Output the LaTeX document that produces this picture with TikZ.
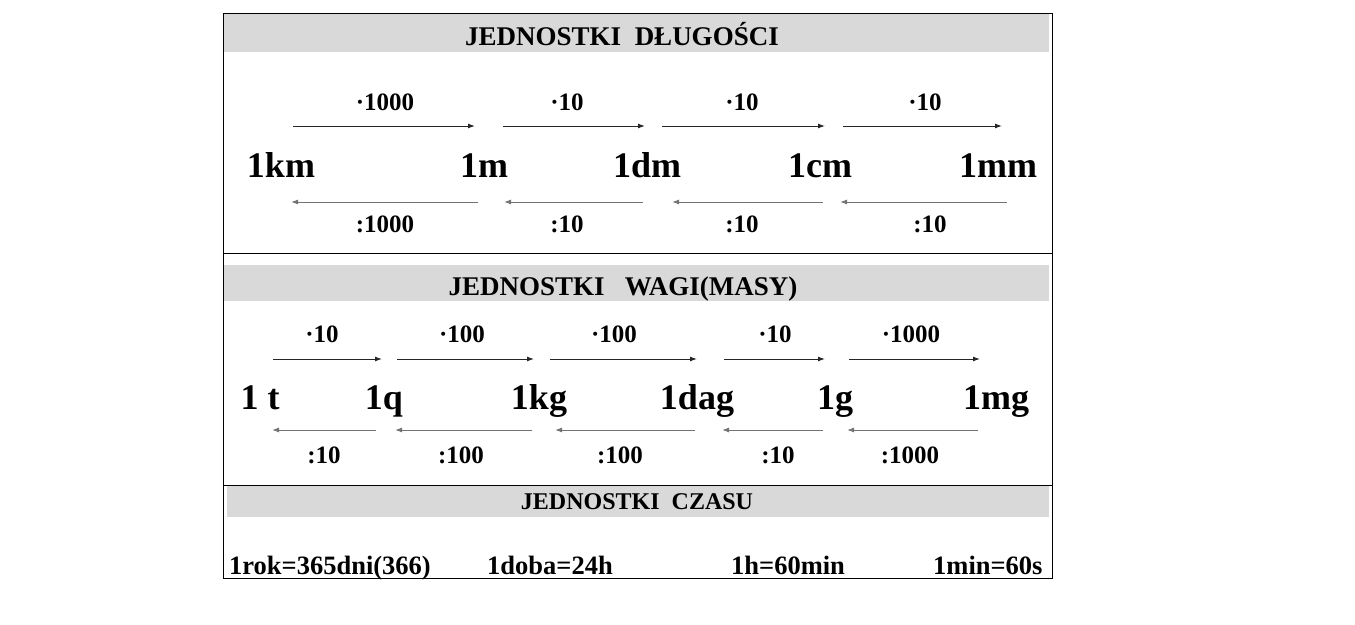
\documentclass[tikz,border=0pt]{standalone}
\usepackage{fontspec}
\setmainfont{Liberation Serif}
\usetikzlibrary{arrows.meta}
\begin{document}
\begin{tikzpicture}[x=1pt,y=-1pt]
  \tikzstyle{unit}=[anchor=base, inner sep=0pt, font=\fontsize{36}{40}\selectfont\bfseries]
  \tikzstyle{factor}=[anchor=base, inner sep=0pt, font=\fontsize{25}{28}\selectfont\bfseries]
  \tikzstyle{heading}=[anchor=base, inner sep=0pt, font=\fontsize{27}{30}\selectfont\bfseries]
  \tikzstyle{relation}=[anchor=base west, inner sep=0pt, font=\fontsize{26.5}{30}\selectfont\bfseries]
  \tikzstyle{band}=[fill=black!15, draw=none]
  \tikzstyle{fwd}=[black!85, line width=1pt, -{Latex[length=7pt,width=5pt]}]
  \tikzstyle{bwd}=[black!55, line width=1pt, -{Latex[length=7pt,width=5pt]}]
  \useasboundingbox (0,0) rectangle (1355,624);

  % Frame and bands
  \fill[band] (224,14) rectangle (1049,52);
  \fill[band] (224,265) rectangle (1049,301);
  \fill[band] (227,486) rectangle (1049,517);
  \draw[line width=0.8pt] (223,13) rectangle (1052,578);
  \draw[line width=0.8pt] (223,253) -- (1052,253);
  \draw[line width=0.8pt] (223,485) -- (1052,485);

  % Headings
  \node[heading] (hlen) at (622,45) {JEDNOSTKI\ \ DŁUGOŚCI};
  \node[heading] (hmass) at (623,295) {JEDNOSTKI\ \ \ WAGI(MASY)};
  \node[heading, font=\fontsize{24}{28}\selectfont\bfseries] (htime) at (637,509) {JEDNOSTKI\ \ CZASU};

  % Length units
  \node[unit] (km) at (281,177) {1km};
  \node[unit] (m) at (484,177) {1m};
  \node[unit] (dm) at (647,177) {1dm};
  \node[unit] (cm) at (820,177) {1cm};
  \node[unit] (mm) at (998,177) {1mm};

  \node[factor] (lt1) at (385,110) {·1000};
  \node[factor] (lt2) at (567,110) {·10};
  \node[factor] (lt3) at (742,110) {·10};
  \node[factor] (lt4) at (925,110) {·10};
  \node[factor] (lb1) at (385,232) {:1000};
  \node[factor] (lb2) at (567,232) {:10};
  \node[factor] (lb3) at (742,232) {:10};
  \node[factor] (lb4) at (930,232) {:10};

  \coordinate (la1) at (293,126); \coordinate (lz1) at (475,126);
  \coordinate (la2) at (503,126); \coordinate (lz2) at (645,126);
  \coordinate (la3) at (662,126); \coordinate (lz3) at (825,126);
  \coordinate (la4) at (843,126); \coordinate (lz4) at (1002,126);
  \coordinate (ra1) at (478,202); \coordinate (rz1) at (291,202);
  \coordinate (ra2) at (643,202); \coordinate (rz2) at (504,202);
  \coordinate (ra3) at (823,202); \coordinate (rz3) at (672,202);
  \coordinate (ra4) at (1007,202); \coordinate (rz4) at (840,202);

  \draw[fwd] (la1) -- (lz1);
  \draw[fwd] (la2) -- (lz2);
  \draw[fwd] (la3) -- (lz3);
  \draw[fwd] (la4) -- (lz4);
  \draw[bwd] (ra1) -- (rz1);
  \draw[bwd] (ra2) -- (rz2);
  \draw[bwd] (ra3) -- (rz3);
  \draw[bwd] (ra4) -- (rz4);

  % Mass units
  \node[unit] (t) at (260,409) {1 t};
  \node[unit] (q) at (384,409) {1q};
  \node[unit] (kg) at (539,409) {1kg};
  \node[unit] (dag) at (697,409) {1dag};
  \node[unit] (g) at (835,409) {1g};
  \node[unit] (mg) at (996,409) {1mg};

  \node[factor] (mt1) at (322,342) {·10};
  \node[factor] (mt2) at (462,342) {·100};
  \node[factor] (mt3) at (614,342) {·100};
  \node[factor] (mt4) at (775,342) {·10};
  \node[factor] (mt5) at (911,342) {·1000};
  \node[factor] (mb1) at (324,463) {:10};
  \node[factor] (mb2) at (461,463) {:100};
  \node[factor] (mb3) at (620,463) {:100};
  \node[factor] (mb4) at (778,463) {:10};
  \node[factor] (mb5) at (910,463) {:1000};

  \coordinate (ma1) at (273,359); \coordinate (mz1) at (382,359);
  \coordinate (ma2) at (397,359); \coordinate (mz2) at (534,359);
  \coordinate (ma3) at (550,359); \coordinate (mz3) at (697,359);
  \coordinate (ma4) at (724,359); \coordinate (mz4) at (825,359);
  \coordinate (ma5) at (849,359); \coordinate (mz5) at (980,359);
  \coordinate (na1) at (376,430); \coordinate (nz1) at (272,430);
  \coordinate (na2) at (532,430); \coordinate (nz2) at (395,430);
  \coordinate (na3) at (695,430); \coordinate (nz3) at (555,430);
  \coordinate (na4) at (823,430); \coordinate (nz4) at (722,430);
  \coordinate (na5) at (978,430); \coordinate (nz5) at (847,430);

  \draw[fwd] (ma1) -- (mz1);
  \draw[fwd] (ma2) -- (mz2);
  \draw[fwd] (ma3) -- (mz3);
  \draw[fwd] (ma4) -- (mz4);
  \draw[fwd] (ma5) -- (mz5);
  \draw[bwd] (na1) -- (nz1);
  \draw[bwd] (na2) -- (nz2);
  \draw[bwd] (na3) -- (nz3);
  \draw[bwd] (na4) -- (nz4);
  \draw[bwd] (na5) -- (nz5);

  % Time units
  \node[relation] (year) at (229,574) {1rok=365dni(366)};
  \node[relation] (day) at (487,574) {1doba=24h};
  \node[relation] (hour) at (731,574) {1h=60min};
  \node[relation] (minute) at (933,574) {1min=60s};
\end{tikzpicture}
\end{document}
